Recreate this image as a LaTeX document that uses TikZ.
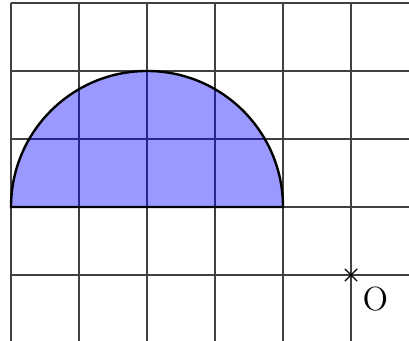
\documentclass[tikz,border=0pt]{standalone}
\begin{document}
\begin{tikzpicture}[x=1cm,y=1cm,
  gridline/.style={draw=black!75,line width=0.5pt},
  half/.style={draw=black,line width=1pt,fill=blue,fill opacity=0.4,draw opacity=1},
  crossmark/.style={draw=black,line width=0.5pt}]
\useasboundingbox (-5.162,-0.97) rectangle (0.853,4.044);
\clip (-5.162,-0.97) rectangle (0.853,4.044);
\draw[gridline] (-5,-1.5) grid (1.5,4);
\draw[half] (-5,1) arc[start angle=180,end angle=0,radius=2] -- cycle;
\coordinate (o) at (0,0);
\draw[crossmark] (-0.09,-0.09) -- (0.09,0.09) (-0.09,0.09) -- (0.09,-0.09);
\node[inner sep=0pt,font=\fontsize{14}{16}\selectfont] (olabel) at (0.36,-0.36) {O};
\end{tikzpicture}
\end{document}
